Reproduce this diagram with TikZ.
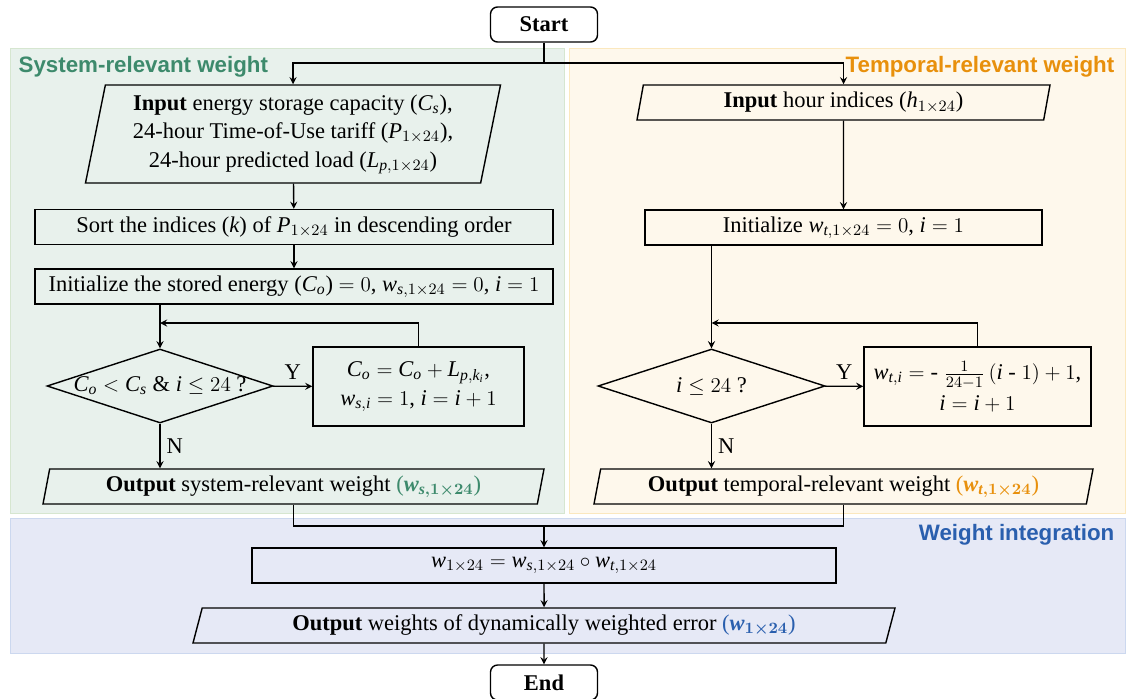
\documentclass[tikz,border=0pt]{standalone}
\usepackage{amsmath}
\usepackage{fontspec}
\setmainfont{Liberation Serif}
\newfontfamily\titlefont{Liberation Sans}
\usepackage{tikz}
\usetikzlibrary{shapes.geometric, arrows}
\usepackage{xcolor}

% math letters in the text serif
\DeclareSymbolFont{serifit}{TU}{\rmdefault}{m}{it}
\SetSymbolFont{serifit}{bold}{TU}{\rmdefault}{b}{it}
\DeclareMathSymbol{C}{\mathalpha}{serifit}{`C}
\DeclareMathSymbol{L}{\mathalpha}{serifit}{`L}
\DeclareMathSymbol{P}{\mathalpha}{serifit}{`P}
\DeclareMathSymbol{h}{\mathalpha}{serifit}{`h}
\DeclareMathSymbol{i}{\mathalpha}{serifit}{`i}
\DeclareMathSymbol{k}{\mathalpha}{serifit}{`k}
\DeclareMathSymbol{o}{\mathalpha}{serifit}{`o}
\DeclareMathSymbol{p}{\mathalpha}{serifit}{`p}
\DeclareMathSymbol{s}{\mathalpha}{serifit}{`s}
\DeclareMathSymbol{t}{\mathalpha}{serifit}{`t}
\DeclareMathSymbol{w}{\mathalpha}{serifit}{`w}

\definecolor{sysgreen}{HTML}{3D8A6C}
\definecolor{sysfill}{HTML}{E8F1EC}
\definecolor{sysedge}{HTML}{D6E6D0}
\definecolor{temporange}{HTML}{E8900C}
\definecolor{tempfill}{HTML}{FEF8EC}
\definecolor{tempedge}{HTML}{FBE8BE}
\definecolor{intblue}{HTML}{2A5FAE}
\definecolor{intfill}{HTML}{E6E9F6}
\definecolor{intedge}{HTML}{CCD8EF}

\begin{document}
\begin{tikzpicture}[thick, font=\fontsize{12.8pt}{16.2pt}\selectfont]
    \useasboundingbox (0, 0) rectangle (22.52, 13.96);

    % Define styles for boxes and arrows
    \tikzstyle{terminal} = [rectangle, rounded corners=4pt, minimum width=2.14cm, minimum height=0.7cm, draw=black, fill=white, font=\fontsize{12.8pt}{16.2pt}\selectfont\bfseries]
    \tikzstyle{process} = [rectangle, minimum height=0.7cm, inner sep=2pt, text centered, draw=black]
    \tikzstyle{io} = [trapezium, trapezium left angle=77, trapezium right angle=103, trapezium stretches body, minimum height=0.7cm, inner sep=2pt, align=center, draw=black]
    \tikzstyle{decision} = [diamond, minimum width=4.52cm, minimum height=1.48cm, inner sep=0pt, draw=black]
    \tikzstyle{title} = [inner sep=0pt, font=\fontsize{12.7pt}{15pt}\selectfont\titlefont\bfseries]
    \tikzstyle{arrow} = [thick,->,>=stealth]
    \tikzstyle{line} = [thick,-]

    % regions
    \draw [draw=sysedge, fill=sysfill, thin] (0.20, 13.00) rectangle (11.28, 3.70);
    \draw [draw=tempedge, fill=tempfill, thin] (11.38, 13.00) rectangle (22.50, 3.70);
    \draw [draw=intedge, fill=intfill, thin] (0.20, 3.60) rectangle (22.50, 0.90);

    % titles
    \node (systitle) [title, text=sysgreen, anchor=west] at (0.36, 12.62) {System-relevant weight};
    \node (temptitle) [title, text=temporange, anchor=east] at (22.30, 12.62) {Temporal-relevant weight};
    \node (inttitle) [title, text=intblue, anchor=east] at (22.30, 3.26) {Weight integration};

    % boxes
    \node (start) [terminal] at (10.88, 13.47) {Start};

    \node (inS) [io, minimum width=8.30cm, minimum height=1.96cm] at (5.86, 11.28) {\textbf{Input} energy storage capacity ($C_s$),\\ 24-hour Time-of-Use tariff ($P_{1\times 24}$),\\ 24-hour predicted load ($L_{p,1\times 24}$)};
    \node (sortS) [process, minimum width=10.36cm] at (5.88, 9.42) {Sort the indices ($k$) of $P_{1\times 24}$ in descending order};
    \node (initS) [process, minimum width=10.36cm] at (5.88, 8.23) {Initialize the stored energy ($C_o$) $=0$, $w_{s,1\times 24}=0$, $i=1$};
    \node (decS) [decision] at (3.20, 6.24) {\makebox[0pt]{$C_o < C_s$ \& $i \leq 24$ ?}};
    \node (procS) [process, minimum width=4.22cm, minimum height=1.58cm, align=center] at (8.37, 6.23) {$C_o = C_o + L_{p,k_i}$,\\ $w_{s,i} = 1$, $i = i + 1$};
    \node (outS) [io, minimum width=10.02cm] at (5.87, 4.23) {\textbf{Output} system-relevant weight \textcolor{sysgreen}{($\boldsymbol{w_{s,1\times 24}}$)}};

    \node (inT) [io, minimum width=8.26cm] at (16.87, 11.91) {\textbf{Input} hour indices ($h_{1\times 24}$)};
    \node (initT) [process, minimum width=7.94cm] at (16.87, 9.41) {Initialize $w_{t,1\times 24} = 0$, $i = 1$};
    \node (decT) [decision, minimum width=4.54cm] at (14.23, 6.24) {\makebox[0pt]{$i \leq 24$ ?}};
    \node (procT) [process, minimum width=4.54cm, minimum height=1.58cm, align=center] at (19.55, 6.23) {$w_{t,i} = \text{-}\ \tfrac{1}{24-1}\,(i \text{ - } 1) + 1$,\\[1pt] $i = i + 1$};
    \node (outT) [io, minimum width=9.98cm] at (16.87, 4.23) {\textbf{Output} temporal-relevant weight \textcolor{temporange}{($\boldsymbol{w_{t,1\times 24}}$)}};

    \node (formula) [process, minimum width=11.68cm] at (10.88, 2.65) {$w_{1\times 24} = w_{s,1\times 24} \circ w_{t,1\times 24}$};
    \node (outW) [io, trapezium left angle=72, trapezium right angle=108, minimum width=14.04cm] at (10.88, 1.45) {\textbf{Output} weights of dynamically weighted error \textcolor{intblue}{($\boldsymbol{w_{1\times 24}}$)}};
    \node (end) [terminal] at (10.88, 0.31) {End};

    % joints
    \coordinate (split) at (10.88, 12.70);
    \coordinate (loopS) at (3.20, 7.50);
    \coordinate (loopT) at (14.23, 7.50);
    \coordinate (merge) at (10.88, 3.44);

    % Arrows
    \draw [line] (start) -- (split);
    \draw [arrow] (split) -| (inS);
    \draw [arrow] (split) -| (inT);
    \draw [arrow] (inS) -- (sortS);
    \draw [arrow] (sortS) -- (initS);
    \draw [arrow] (initS.south -| decS.north) -- (decS);
    \draw [arrow] (decS) -- node [above] {Y} (procS);
    \draw [arrow] (procS) |- (loopS);
    \draw [arrow] (decS) -- node [right] {N} (decS |- outS.north);

    \draw [arrow] (inT) -- (initT);
    \draw [arrow] (initT.south -| decT.north) -- (decT);
    \draw [arrow] (decT) -- node [above] {Y} (procT);
    \draw [arrow] (procT) |- (loopT);
    \draw [arrow] (decT) -- node [right] {N} (decT |- outT.north);

    \draw [line] (outS) |- (merge);
    \draw [line] (outT) |- (merge);
    \draw [arrow] (merge) -- (formula);
    \draw [arrow] (formula) -- (outW);
    \draw [arrow] (outW) -- (end);
\end{tikzpicture}
\end{document}
